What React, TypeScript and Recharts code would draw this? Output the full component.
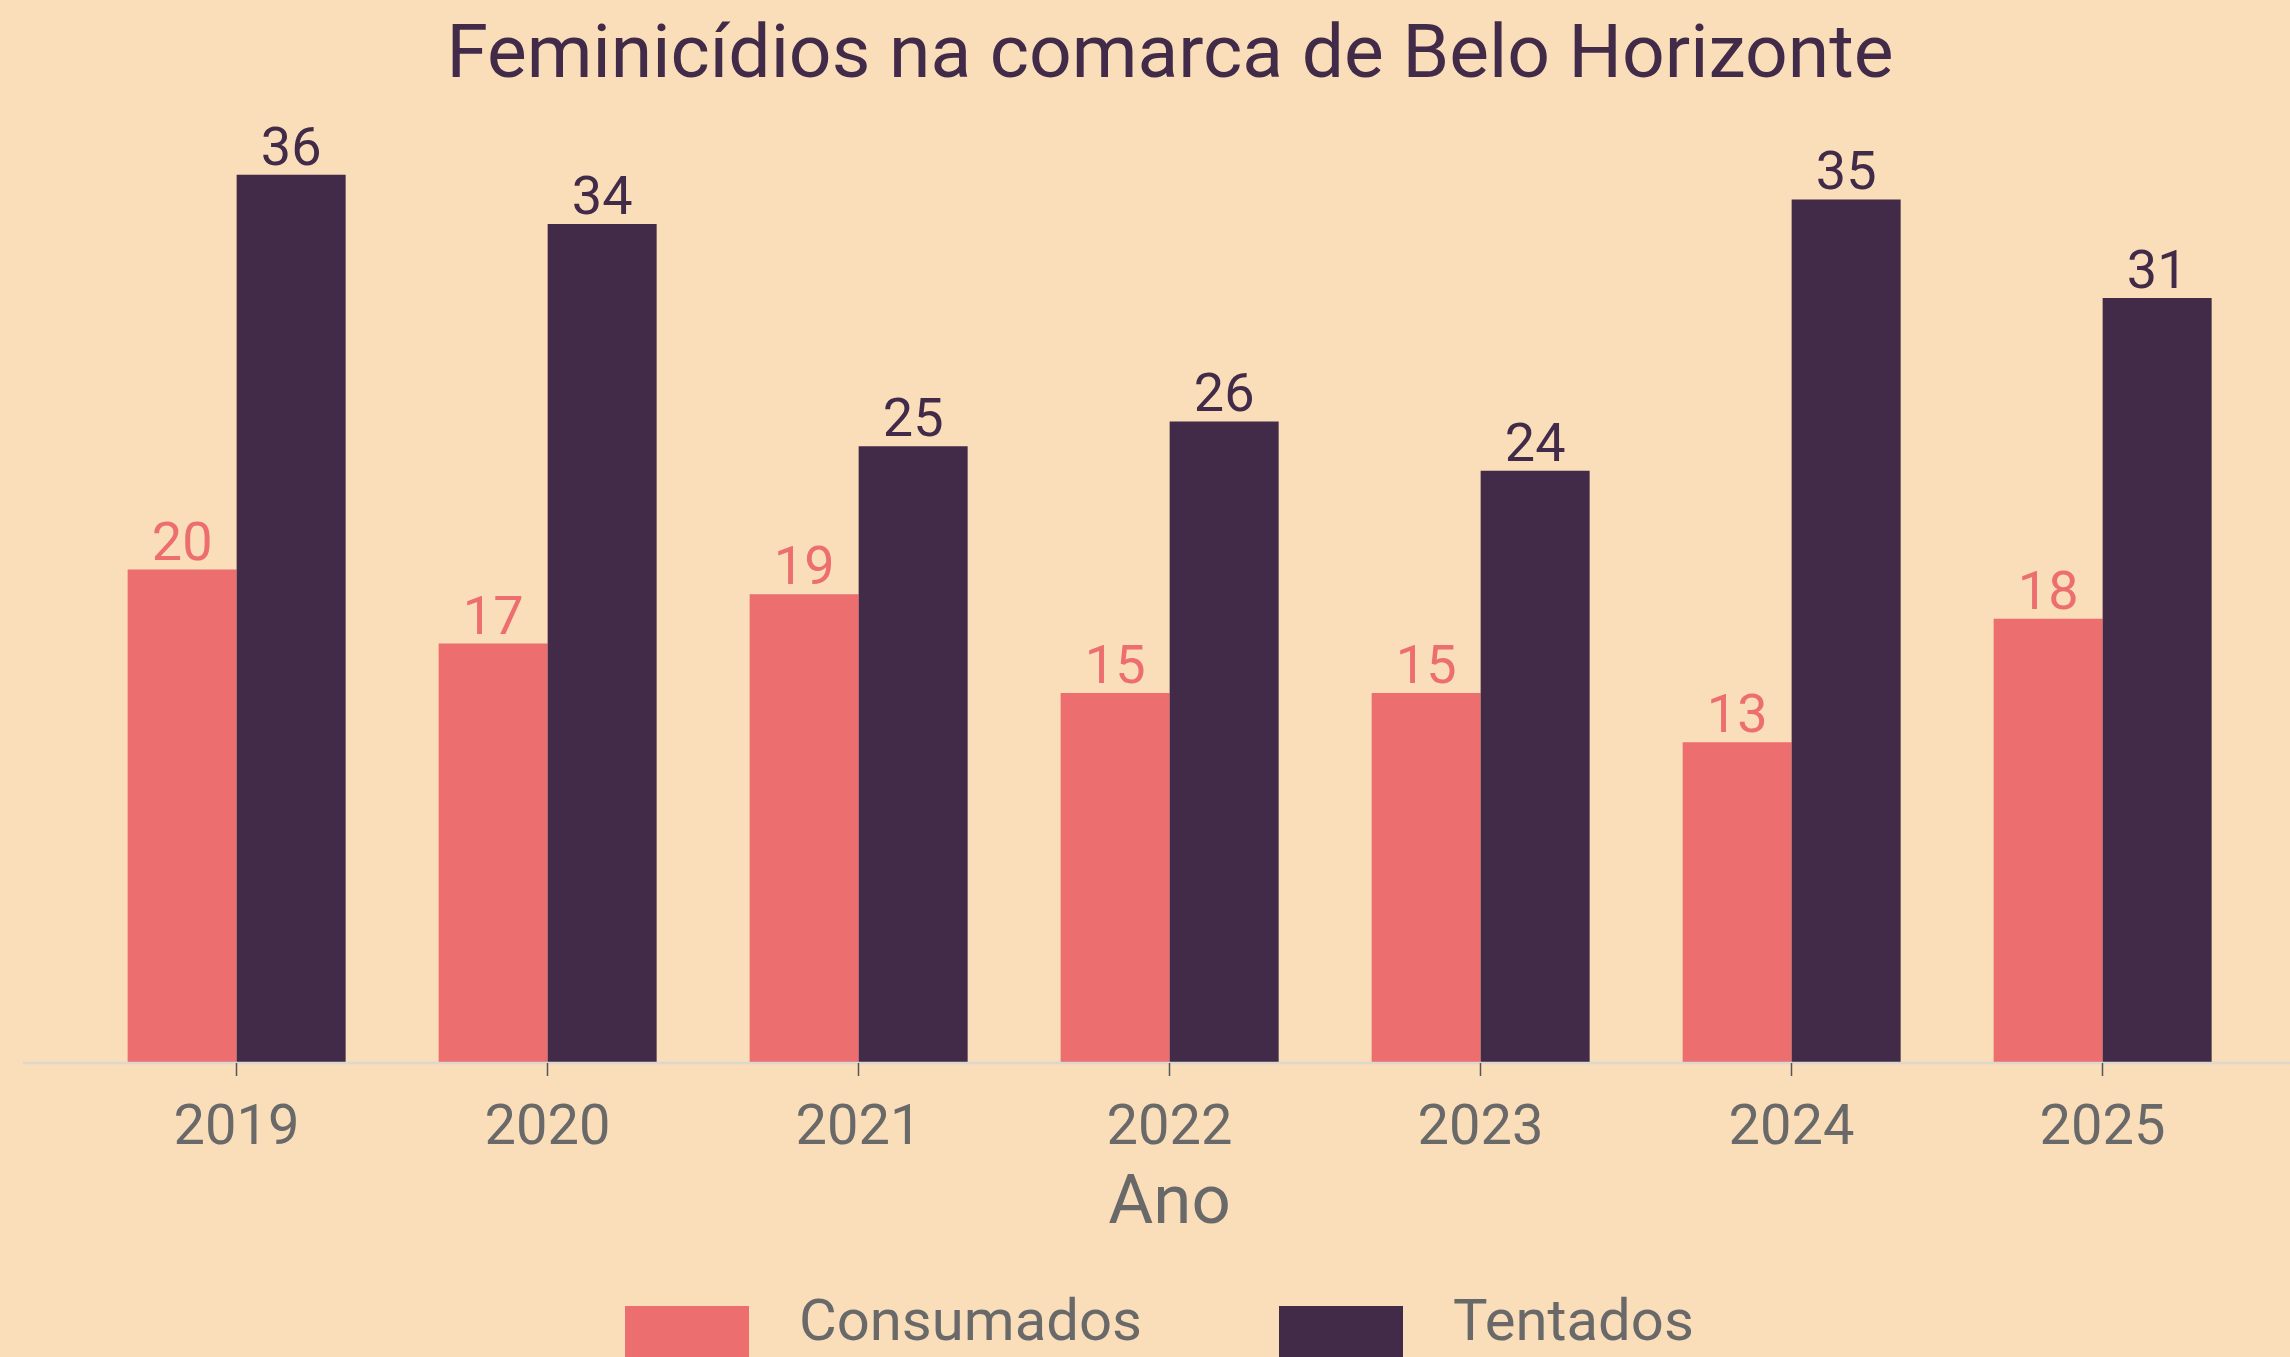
import React from 'react';
import { BarChart, Bar, XAxis, YAxis, LabelList, Label, Legend } from 'recharts';

const anos = ['2019', '2020', '2021', '2022', '2023', '2024', '2025'];
const consumados = [20, 17, 19, 15, 15, 13, 18];
const tentados = [36, 34, 25, 26, 24, 35, 31];

const BG = '#FADDB9';
const PINK = '#EC6E6E';
const PURPLE = '#412B48';
const GRAY = '#696969';
const FONT = 'Roboto, "Noto Sans", sans-serif';

const data = anos.map((ano, i) => ({
  ano,
  Consumados: consumados[i],
  Tentados: tentados[i],
}));

function LegendBox() {
  // legend sits at the very bottom of the picture
  return (
    <svg width={2290} height={87} style={{ display: 'block' }}>
      <rect x={625} y={36} width={124} height={51} fill={PINK} />
      <text x={799} y={70} fontSize={58} fill={GRAY} fontFamily={FONT}>
        Consumados
      </text>
      <rect x={1279} y={36} width={124} height={51} fill={PURPLE} />
      <text x={1453} y={70} fontSize={58} fill={GRAY} fontFamily={FONT}>
        Tentados
      </text>
    </svg>
  );
}

export default function App() {
  return (
    <div
      style={{
        position: 'absolute',
        left: 0,
        top: 0,
        width: 2290,
        height: 1357,
        background: BG,
        overflow: 'hidden',
        fontFamily: FONT,
      }}
    >
      <div
        style={{
          position: 'absolute',
          left: 0,
          top: 3,
          width: 2340,
          textAlign: 'center',
          fontSize: 75,
          color: PURPLE,
          lineHeight: '96px',
        }}
      >
        Feminicídios na comarca de Belo Horizonte
      </div>
      <BarChart
        width={2290}
        height={1357}
        data={data}
        margin={{ top: 76, right: 0, left: 23, bottom: 94 }}
        barCategoryGap="15%"
        barGap={0}
      >
        <YAxis hide domain={[0, 40]} />
        <XAxis
          dataKey="ano"
          height={200}
          padding={{ left: 58, right: 32 }}
          axisLine={{ stroke: '#DCD8D0', strokeWidth: 2.5 }}
          tickLine={{ stroke: '#555', strokeWidth: 1.5 }}
          tickSize={13}
          tickMargin={28}
          tick={{ fontSize: 56, fill: GRAY, fontFamily: FONT }}
        >
          <Label
            content={({ viewBox }: any) => (
              <text
                x={viewBox.x + 58 + (viewBox.width - 90) / 2}
                y={viewBox.y + 160}
                textAnchor="middle"
                fontSize={69}
                fill={GRAY}
                fontFamily={FONT}
              >
                Ano
              </text>
            )}
          />
        </XAxis>
        <Legend
          layout="horizontal"
          verticalAlign="middle"
          align="center"
          wrapperStyle={{ top: 1270, left: 0, width: 2290 }}
          content={() => <LegendBox />}
        />
        <Bar dataKey="Consumados" fill={PINK} isAnimationActive={false}>
          <LabelList
            dataKey="Consumados"
            position="top"
            offset={10}
            fill={PINK}
            fontSize={54}
            fontFamily={FONT}
          />
        </Bar>
        <Bar dataKey="Tentados" fill={PURPLE} isAnimationActive={false}>
          <LabelList
            dataKey="Tentados"
            position="top"
            offset={10}
            fill={PURPLE}
            fontSize={54}
            fontFamily={FONT}
          />
        </Bar>
      </BarChart>
    </div>
  );
}
